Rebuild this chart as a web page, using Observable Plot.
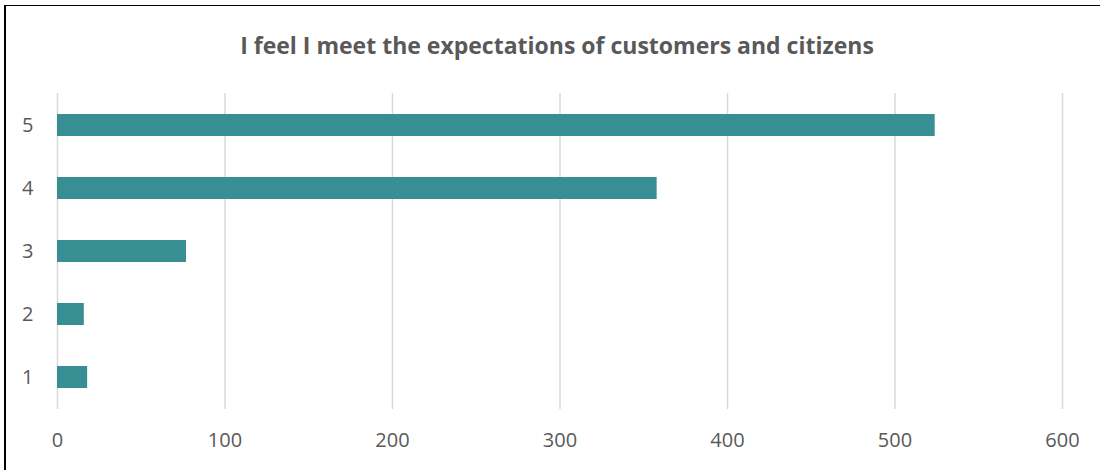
<!DOCTYPE html>
<html>
<head>
<meta charset="utf-8">
<script src="https://cdn.jsdelivr.net/npm/d3@7"></script>
<script src="https://cdn.jsdelivr.net/npm/@observablehq/plot@0.6"></script>
<style>
  html, body { margin: 0; padding: 0; background: #ffffff; }
  #wrap { position: relative; width: 1100px; height: 470px; overflow: hidden; background: #fff; font-family: "Open Sans", sans-serif; }
  #borderTop { position: absolute; left: 4px; top: 5px; width: 1096px; height: 1px; background: #000; }
  #borderLeft { position: absolute; left: 4px; top: 5px; width: 2px; height: 465px; background: #000; }
  #title { position: absolute; left: 0; top: 29px; width: 1114px; text-align: center; font-size: 23px; font-weight: 700; color: #595959; line-height: 32px; }
  #chart { position: absolute; left: 0; top: 75px; }
</style>
</head>
<body>
<div id="wrap">
  <div id="borderTop"></div>
  <div id="borderLeft"></div>
  <div id="title">I feel I meet the expectations of customers and citizens</div>
  <div id="chart"></div>
</div>
<script>
const categories = ["1", "2", "3", "4", "5"];
const counts = [18, 16, 77, 358, 524];
const xTicks = [0, 100, 200, 300, 400, 500, 600];

const data = categories.map((c, i) => ({category: c, count: counts[i]}));

const chart = Plot.plot({
  width: 1100,
  height: 395,
  marginTop: 18,
  marginBottom: 61,
  marginLeft: 57,
  marginRight: 38,
  style: {fontFamily: "Open Sans, sans-serif", fontSize: "20px", color: "#595959", background: "transparent"},
  x: {domain: [0, 600], ticks: xTicks, label: null},
  y: {domain: categories.slice().reverse(), paddingInner: 0.65, paddingOuter: 0.325, label: null},
  marks: [
    Plot.gridX(xTicks, {stroke: "#d9d9d9", strokeOpacity: 1, strokeWidth: 1.5}),
    Plot.barX(data, {x: "count", y: "category", fill: "#378f93"}),
    Plot.axisX({ticks: xTicks, tickSize: 0, tickPadding: 23, label: null, fill: "#595959", fontSize: 20}),
    Plot.axisY({tickSize: 0, tickPadding: 24, label: null, fill: "#595959", fontSize: 20})
  ]
});
document.getElementById("chart").appendChild(chart);
</script>
</body>
</html>
